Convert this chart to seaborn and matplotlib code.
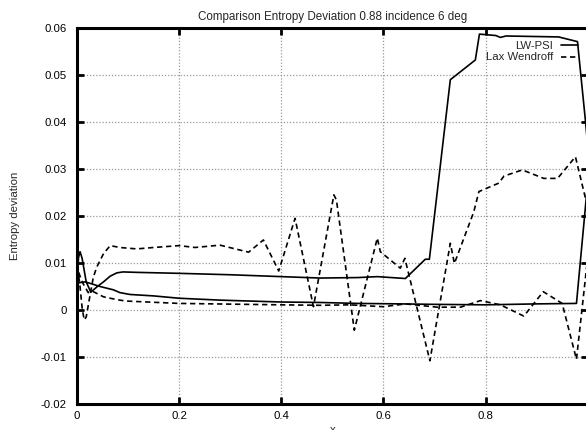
import matplotlib
matplotlib.use("Agg")
import matplotlib.pyplot as plt
import seaborn as sns
import pandas as pd
from matplotlib.lines import Line2D

# ---- data ----
title = "Comparison Entropy Deviation 0.88 incidence 6 deg"
x_label = "x"
y_label = "Entropy deviation"
series_names = ["LW-PSI", "Lax Wendroff"]

lwpsi_x = [0.0, 0.003, 0.006, 0.010, 0.018, 0.027, 0.040, 0.052, 0.065, 0.078, 0.090,
           0.120, 0.200, 0.300, 0.400, 0.476, 0.550, 0.588, 0.643, 0.682, 0.690, 0.731,
           0.780, 0.788, 0.820, 0.829, 0.840, 0.943, 0.980, 0.996, 1.000,
           1.000, 0.998, 0.978, 0.900, 0.800, 0.700, 0.633, 0.550, 0.476, 0.400, 0.280,
           0.200, 0.150, 0.104, 0.084, 0.071, 0.045, 0.016, 0.0]
lwpsi_y = [0.0057, 0.0112, 0.0124, 0.0110, 0.0060, 0.0038, 0.0050, 0.0060, 0.0072, 0.0079, 0.0081,
           0.0080, 0.0078, 0.0075, 0.0071, 0.0068, 0.0069, 0.0071, 0.0067, 0.0108, 0.0108, 0.0490,
           0.0532, 0.0587, 0.0584, 0.0580, 0.0583, 0.0581, 0.0571, 0.0398, 0.0350,
           0.0270, 0.0248, 0.0014, 0.0013, 0.0011, 0.0012, 0.0013, 0.0014, 0.0016, 0.0017, 0.0021,
           0.0025, 0.0030, 0.0033, 0.0037, 0.0043, 0.0050, 0.0060, 0.0057]

lw_x = [0.0, 0.005, 0.010, 0.014, 0.018, 0.025, 0.032, 0.039, 0.052, 0.065, 0.084,
        0.117, 0.150, 0.200, 0.231, 0.280, 0.336, 0.365, 0.395, 0.427, 0.463, 0.503,
        0.508, 0.543, 0.588, 0.594, 0.633, 0.642, 0.691, 0.731, 0.739, 0.777, 0.787,
        0.826, 0.836, 0.872, 0.914, 0.941, 0.976, 0.996, 1.000,
        1.000, 0.998, 0.978, 0.950, 0.913, 0.875, 0.829, 0.790, 0.751, 0.705, 0.643,
        0.600, 0.535, 0.476, 0.400, 0.200, 0.097, 0.084, 0.065, 0.052, 0.032, 0.022,
        0.010, 0.0]
lw_y = [0.0090, 0.0060, 0.0005, -0.0021, -0.0015, 0.0028, 0.0070, 0.0092, 0.0120, 0.0137, 0.0133,
        0.0130, 0.0133, 0.0137, 0.0133, 0.0138, 0.0123, 0.0149, 0.0083, 0.0195, 0.0007, 0.0245,
        0.0234, -0.0043, 0.0153, 0.0124, 0.0089, 0.0110, -0.0108, 0.0142, 0.0099, 0.0209, 0.0252,
        0.0270, 0.0285, 0.0298, 0.0280, 0.0280, 0.0326, 0.0236, 0.0220,
        0.0110, 0.0092, -0.0105, 0.0014, 0.0039, -0.0013, 0.0011, 0.0020, 0.0006, 0.0006, 0.0013,
        0.0007, 0.0011, 0.0010, 0.0011, 0.0014, 0.0019, 0.0021, 0.0025, 0.0028, 0.0039, 0.0037,
        0.0060, 0.0090]

x_ticks = [0, 0.2, 0.4, 0.6, 0.8]
x_tick_labels = ["0", "0.2", "0.4", "0.6", "0.8"]
y_ticks = [-0.02, -0.01, 0, 0.01, 0.02, 0.03, 0.04, 0.05, 0.06]
y_tick_labels = ["-0.02", "-0.01", "0", "0.01", "0.02", "0.03", "0.04", "0.05", "0.06"]

# ---- style ----
sns.set_style("ticks")
plt.rcParams["font.family"] = ["Liberation Sans", "DejaVu Sans"]
plt.rcParams["font.size"] = 8

fig = plt.figure(figsize=(5.86, 4.30), dpi=100)
ax = fig.add_axes([77 / 586, 1 - 404 / 430, 510.7 / 586, 376 / 430])

df1 = pd.DataFrame({"x": lwpsi_x, "y": lwpsi_y})
df2 = pd.DataFrame({"x": lw_x, "y": lw_y})
sns.lineplot(data=df1, x="x", y="y", sort=False, estimator=None, ax=ax,
             color="black", linewidth=1.2)
sns.lineplot(data=df2, x="x", y="y", sort=False, estimator=None, ax=ax,
             color="black", linewidth=1.2, dashes=False, linestyle=(0, (3.2, 2.2)))

ax.set_xlim(0, 1)
ax.set_ylim(-0.02, 0.06)
ax.set_xticks(x_ticks)
ax.set_xticklabels(x_tick_labels)
ax.set_yticks(y_ticks)
ax.set_yticklabels(y_tick_labels)
ax.grid(True, color="#9a9a9a", linestyle=(0, (1, 1.5)), linewidth=0.9)
ax.set_axisbelow(True)
for s in ax.spines.values():
    s.set_linewidth(2.2)
    s.set_color("black")
ax.tick_params(direction="in", length=5, width=2, top=True, right=True,
               labelsize=8.2, colors="black")
ax.tick_params(axis="y", pad=7.5)
ax.tick_params(axis="x", pad=5)
ax.set_title(title, fontsize=8.4, pad=5.5)
ax.set_xlabel(x_label, fontsize=8.2, labelpad=3)
ax.set_ylabel(y_label, fontsize=8.2, labelpad=15)

handles = [Line2D([], [], color="black", linewidth=1.2),
           Line2D([], [], color="black", linewidth=1.2, linestyle=(0, (3.2, 2.2)))]
ax.legend(handles, series_names, loc="upper right", frameon=False, markerfirst=False,
          fontsize=8.2, handlelength=1.5, handletextpad=0.7, labelspacing=0.15,
          borderaxespad=0.0, borderpad=0.0, bbox_to_anchor=(0.981, 0.966))

fig.savefig("out.png", dpi=100)
